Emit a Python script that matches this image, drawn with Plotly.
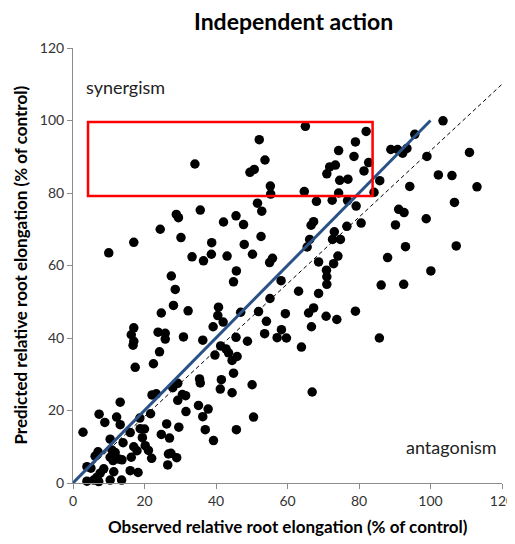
import plotly.graph_objects as go

# Observed (x) vs predicted (y) relative root elongation, % of control
observed = [
    103.5, 110.9, 95.6, 88.9, 90.8, 93.4, 92.2, 99.0, 102.2, 106.0, 113.0, 94.2, 85.8, 84.2, 106.7, 91.1, 92.6, 98.8, 90.2,
    65.0, 82.0, 79.0, 74.3, 78.6, 82.7, 73.4, 71.8, 71.0, 81.4, 74.6, 76.9, 64.7, 74.3, 68.1, 72.5, 76.8, 79.2, 67.3, 66.6,
    76.6, 80.6, 52.1, 53.7, 34.1, 50.7, 49.5, 55.2, 55.3, 51.6, 52.8, 28.9, 29.5, 35.6, 42.1, 45.6, 47.7, 24.4, 30.2, 17.0,
    10.0, 38.8, 47.9, 52.6, 38.7, 33.3, 36.5, 43.1, 50.2, 55.8, 55.0, 73.1, 72.6, 74.8, 66.2, 65.5, 93.0, 107.2, 88.0, 74.1,
    68.7, 72.9, 70.9, 71.0, 71.0, 100.1, 86.2, 92.5, 58.2, 63.1, 68.7, 67.3, 65.9, 59.4, 70.8, 73.8, 79.0, 66.7, 58.3, 59.7,
    85.7, 63.9, 66.9, 27.5, 28.6, 45.7, 44.9, 55.1, 28.1, 24.7, 32.2, 40.7, 40.5, 42.0, 39.2, 46.9, 51.9, 54.1, 53.6, 57.1,
    45.6, 48.8, 36.3, 30.9, 23.8, 25.8, 25.8, 17.0, 16.3, 17.0, 16.8, 24.2, 39.7, 41.3, 42.8, 43.5, 45.9, 44.5, 17.4, 22.5,
    44.9, 35.4, 35.6, 41.5, 41.2, 44.5, 50.1, 29.3, 27.9, 22.1, 23.3, 30.6, 31.5, 29.3, 13.2, 35.1, 37.8, 31.6, 36.3, 50.5,
    7.3, 8.9, 12.2, 13.2, 18.7, 21.7, 26.2, 29.6, 37.0, 45.7, 39.3, 2.8, 10.4, 18.8, 20.0, 16.0, 24.7, 27.0, 19.4, 14.0,
    17.0, 17.9, 20.2, 21.1, 22.0, 26.7, 27.4, 29.0, 26.5, 10.9, 11.8, 7.0, 6.2, 11.2, 12.8, 13.7, 16.3, 5.0, 3.9, 8.6,
    7.6, 11.4, 16.0, 18.2, 3.9, 5.8, 6.7, 7.2, 10.4, 13.6, 10.4,
]
predicted = [
    99.9, 91.2, 96.2, 92.0, 92.0, 92.3, 91.0, 90.1, 85.0, 84.8, 81.7, 81.8, 83.4, 80.2, 77.4, 75.5, 74.6, 72.9, 71.2,
    98.4, 97.0, 94.1, 91.7, 90.1, 88.4, 87.7, 87.2, 85.3, 86.1, 83.5, 83.8, 80.4, 80.0, 77.7, 78.0, 77.9, 76.4, 72.1, 71.1,
    70.8, 71.7, 94.7, 89.1, 88.0, 86.5, 85.7, 81.9, 79.7, 77.2, 75.0, 74.1, 73.2, 75.3, 72.0, 73.7, 71.3, 70.0, 67.7, 66.4,
    63.5, 66.3, 65.8, 68.0, 63.1, 62.4, 61.3, 62.6, 63.1, 62.0, 60.8, 69.3, 67.2, 67.2, 67.2, 65.1, 65.2, 65.4, 62.2, 62.6,
    61.0, 60.5, 58.7, 56.9, 54.8, 58.5, 54.6, 54.8, 55.8, 52.9, 52.3, 48.3, 46.9, 46.7, 46.0, 45.1, 47.4, 43.1, 42.3, 40.0,
    40.0, 37.5, 25.1, 57.1, 53.4, 58.5, 55.5, 50.9, 49.0, 46.9, 47.5, 48.5, 46.2, 44.4, 43.1, 47.1, 47.3, 44.6, 41.2, 40.1,
    40.2, 39.1, 39.4, 40.3, 41.6, 41.3, 39.7, 42.8, 40.9, 39.1, 38.0, 36.2, 35.3, 37.8, 37.0, 35.9, 34.9, 33.8, 31.9, 32.9,
    30.3, 28.7, 27.6, 28.5, 25.9, 24.9, 27.1, 27.5, 26.3, 24.3, 24.6, 24.4, 24.1, 22.8, 22.3, 21.4, 20.4, 19.7, 18.3, 18.2,
    19.0, 16.7, 18.2, 16.1, 17.9, 19.1, 16.3, 15.4, 14.7, 14.7, 11.7, 14.0, 12.1, 15.0, 14.9, 13.9, 13.4, 12.4, 12.5, 11.1,
    10.0, 8.9, 10.3, 9.0, 6.8, 8.0, 8.2, 7.0, 5.0, 9.1, 8.4, 8.6, 7.4, 6.2, 6.6, 6.4, 7.1, 4.1, 4.5, 3.9,
    2.7, 3.1, 3.4, 2.9, 0.5, 0.8, 1.6, 0.4, 0.8, 0.8, 7.1,
]

# Reference lines and highlighted region
line_solid_x = [0, 100]
line_solid_y = [0, 100]
line_dash_x = [0, 120]
line_dash_y = [0, 110]
box_x = [4.2, 83.8]
box_y = [79.2, 99.6]

x_ticks = [0, 20, 40, 60, 80, 100, 120]
y_ticks = [0, 20, 40, 60, 80, 100, 120]

fig = go.Figure()
fig.add_trace(go.Scatter(x=line_dash_x, y=line_dash_y, mode="lines",
                         line=dict(color="black", width=1, dash="4px,3px"),
                         hoverinfo="skip", showlegend=False))
fig.add_trace(go.Scatter(x=observed, y=predicted, mode="markers",
                         marker=dict(color="black", size=9.5),
                         cliponaxis=False, showlegend=False))
fig.add_trace(go.Scatter(x=line_solid_x, y=line_solid_y, mode="lines",
                         line=dict(color="#2B5287", width=3),
                         hoverinfo="skip", showlegend=False))

fig.add_shape(type="rect", x0=box_x[0], x1=box_x[1], y0=box_y[0], y1=box_y[1],
              line=dict(color="#FF0000", width=2.5), layer="above")

fig.add_annotation(x=14.8, y=109.2, text="synergism", showarrow=False,
                   font=dict(size=18, color="#222222", family="Lato"))
fig.add_annotation(x=106, y=10.0, text="antagonism", showarrow=False,
                   font=dict(size=18, color="#222222", family="Lato"))

# Axis titles and chart title placed in paper coordinates
fig.add_annotation(x=0.5, xref="paper", y=-0.101, yref="paper", yanchor="middle",
                   text="<b>Observed relative root elongation (% of control)</b>", showarrow=False,
                   font=dict(size=17, color="black", family="Lato"))
fig.add_annotation(x=-0.1235, xref="paper", y=0.5, yref="paper", xanchor="center", textangle=-90,
                   text="<b>Predicted relative root elongation (% of control)</b>", showarrow=False,
                   font=dict(size=17, color="black", family="Lato"))
fig.add_annotation(x=0.513, xref="paper", y=1.0, yref="paper", yanchor="middle", yshift=27,
                   text="<b>Independent action</b>", showarrow=False,
                   font=dict(size=23, color="black", family="Lato"))

axis_common = dict(
    showgrid=False, zeroline=False, showline=True, linecolor="#8C8C8C", linewidth=1,
    ticks="outside", ticklen=5, tickcolor="#8C8C8C",
    tickfont=dict(size=14, color="#333333", family="Lato"),
    range=[0, 120], automargin=False,
)
fig.update_xaxes(**axis_common, tickvals=x_ticks)
fig.update_yaxes(**axis_common, tickvals=y_ticks)

# The page body adds an 8px offset, so the figure is sized to fit the window
fig.update_layout(
    width=507, height=536,
    margin=dict(l=65, r=13, t=40, b=61),
    paper_bgcolor="white", plot_bgcolor="white",
)

fig.write_html("out.html")
